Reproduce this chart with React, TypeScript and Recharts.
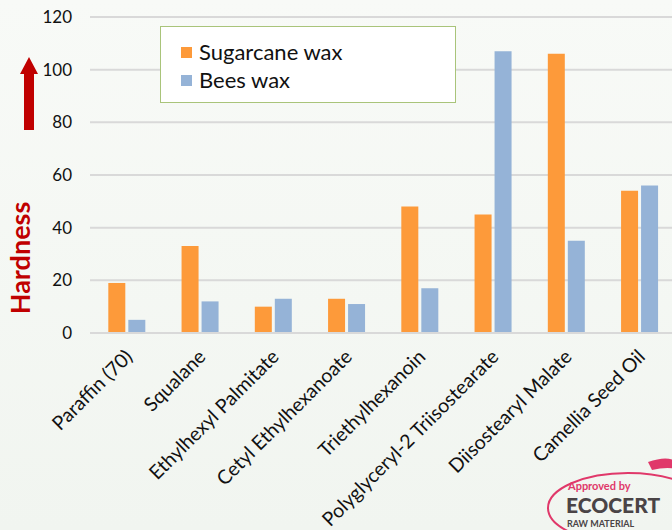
import { BarChart, Bar, XAxis, YAxis, CartesianGrid } from "recharts";

const categories = [
  "Paraffin (70)",
  "Squalane",
  "Ethylhexyl Palmitate",
  "Cetyl Ethylhexanoate",
  "Triethylhexanoin",
  "Polyglyceryl-2 Triisostearate",
  "Diisostearyl Malate",
  "Camellia Seed Oil",
];
const sugarcaneWax = [19, 33, 10, 13, 48, 45, 106, 54];
const beesWax = [5, 12, 13, 11, 17, 107, 35, 56];
const yTicks = [0, 20, 40, 60, 80, 100, 120];

const data = categories.map((name, i) => ({
  name,
  sugarcane: sugarcaneWax[i],
  bees: beesWax[i],
}));

const ORANGE = "#fd9a3a";
const BLUE = "#95b3d7";
const FONT = "Lato, 'Open Sans', sans-serif";

const AngledTick = (props: any) => {
  const { x, y, payload } = props;
  return (
    <text
      x={0}
      y={0}
      transform={`translate(${x + 7},${y + 17}) rotate(-45)`}
      textAnchor="end"
      fill="#111"
      fontSize={19.5}
      fontFamily={FONT}
    >
      {payload.value}
    </text>
  );
};

const legendItems = [
  { label: "Sugarcane wax", color: ORANGE },
  { label: "Bees wax", color: BLUE },
];

export default function App() {
  return (
    <div
      style={{
        position: "absolute",
        left: 0,
        top: 0,
        width: 672,
        height: 530,
        overflow: "hidden",
        background: "linear-gradient(180deg, #f8faf7 0%, #f1f5f0 100%)",
      }}
    >
      <BarChart
        width={680}
        height={530}
        data={data}
        margin={{ top: 17, right: 4, bottom: 0, left: 0 }}
        barCategoryGap="25%"
        barGap={3}
      >
        <CartesianGrid vertical={false} stroke="#d9d9d9" strokeWidth={2} />
        <XAxis
          dataKey="name"
          interval={0}
          height={197}
          tickLine={false}
          axisLine={{ stroke: "#d9d9d9", strokeWidth: 2 }}
          tick={<AngledTick />}
        />
        <YAxis
          width={90}
          domain={[0, 120]}
          ticks={yTicks}
          axisLine={false}
          tickLine={false}
          tickSize={0}
          tickMargin={18}
          tick={{ fill: "#111", fontSize: 17, fontFamily: FONT }}
        />
        <Bar dataKey="sugarcane" name="Sugarcane wax" fill={ORANGE} isAnimationActive={false} />
        <Bar dataKey="bees" name="Bees wax" fill={BLUE} isAnimationActive={false} />
      </BarChart>
      <div
        style={{
          position: "absolute",
          left: 160,
          top: 26,
          width: 296,
          height: 77,
          border: "1px solid #a9c47a",
          background: "#fff",
          fontFamily: FONT,
          fontSize: 22,
          color: "#111",
          boxSizing: "border-box",
          paddingLeft: 20,
          paddingTop: 11,
          lineHeight: "28px",
        }}
      >
        {legendItems.map((it) => (
          <div key={it.label} style={{ display: "flex", alignItems: "center" }}>
            <span style={{ width: 11, height: 11, background: it.color, marginRight: 7 }} />
            {it.label}
          </div>
        ))}
      </div>
      <svg
        width={672}
        height={530}
        style={{ position: "absolute", left: 0, top: 0, pointerEvents: "none" }}
      >
        <polygon points="24,130 34,130 34,74 38,74 29,57 20,74 24,74" fill="#c00000" />
        <text
          transform="translate(30,258) rotate(-90)"
          textAnchor="middle"
          fill="#c00000"
          fontSize={27}
          fontWeight="bold"
          fontFamily={FONT}
        >
          Hardness
        </text>
        <ellipse cx={628} cy={508} rx={80} ry={35} fill="none" stroke="#e0386a" strokeWidth={2} />
        <path d="M648,462 Q676,452 682,470 Q668,466 652,470 Z" fill="#e0386a" />
        <text x={568} y={490} fill="#e0386a" fontSize={11} fontFamily={FONT} fontWeight="bold">
          Approved by
        </text>
        <text x={566} y={513} fill="#4a4446" fontSize={21} fontFamily={FONT} fontWeight="900">
          ECOCERT
        </text>
        <text x={567} y={527} fill="#4a4446" fontSize={9} fontFamily={FONT} fontWeight="bold">
          RAW MATERIAL
        </text>
      </svg>
    </div>
  );
}
